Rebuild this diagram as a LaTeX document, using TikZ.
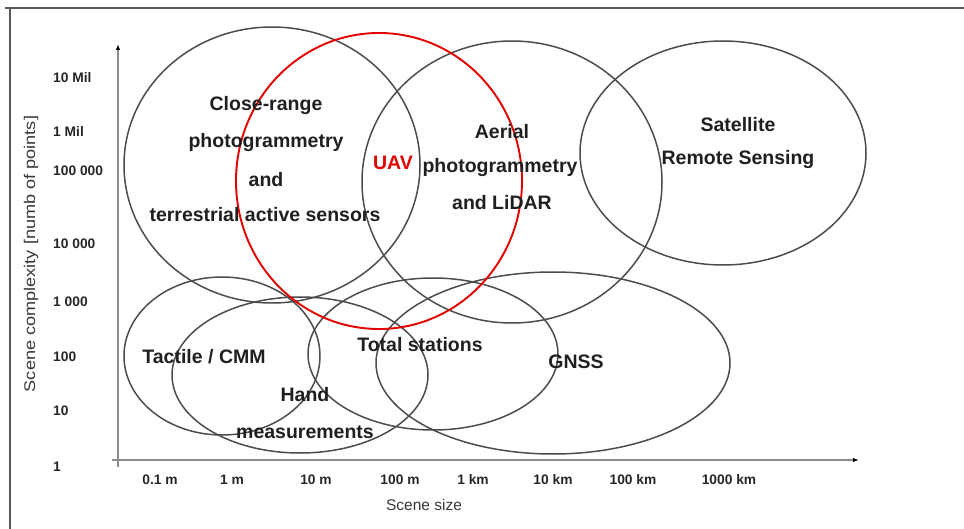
\documentclass[tikz,border=0pt]{standalone}
\usepackage{fontspec}
\setmainfont{Liberation Sans}
\usetikzlibrary{arrows.meta}
\begin{document}
\begin{tikzpicture}[x=1pt,y=-1pt,
  ell/.style={draw=black!70, line width=1.5pt},
  uavell/.style={draw=red!90!black, line width=1.9pt},
  lbl/.style={font=\fontsize{19.5}{22}\selectfont\bfseries, text=black!88, inner sep=0pt},
  uavlbl/.style={font=\fontsize{19.5}{22}\selectfont\bfseries, text=red!90!black, inner sep=0pt},
  ticklbl/.style={font=\fontsize{13.8}{15}\selectfont\bfseries, text=black!85, inner sep=0pt},
  axtitle/.style={font=\fontsize{15.5}{17}\selectfont, text=black!78, inner sep=0pt},
  axisline/.style={draw=black!45, line width=1.3pt, -{Latex[length=6pt,width=4.5pt,fill=black,color=black]}},
  frameline/.style={draw=black!65, line width=2pt}
]
\useasboundingbox (0,0) rectangle (964,529);
% frame
\draw[frameline] (5,8) -- (964,8);
\draw[frameline] (10,8) -- (10,529);
% axes
\coordinate (ybot) at (118,467);
\coordinate (ytop) at (118,44);
\coordinate (xstart) at (112,460);
\coordinate (xend) at (859,460);
\draw[axisline] (ybot) -- (ytop);
\draw[axisline] (xstart) -- (xend);
% ellipses
\draw[ell] (272,165) ellipse [x radius=148, y radius=138];
\draw[ell] (512,182) ellipse [x radius=150, y radius=141];
\draw[ell] (723,153) ellipse [x radius=143, y radius=112];
\draw[ell] (222,356) ellipse [x radius=98, y radius=79];
\draw[ell] (300,375) ellipse [x radius=128, y radius=78];
\draw[ell] (433,354) ellipse [x radius=125, y radius=76];
\draw[ell] (553,363) ellipse [x radius=177, y radius=91];
\draw[uavell] (379,181) ellipse [x radius=143, y radius=148];
% labels
\node[lbl] (cr1) at (266,106) {Close-range};
\node[lbl] (cr2) at (266,143) {photogrammetry};
\node[lbl] (cr3) at (266,180) {and};
\node[lbl] (cr4) at (265,215) {terrestrial active sensors};
\node[uavlbl] (uav) at (393,163) {UAV};
\node[lbl] (ae1) at (502,132) {Aerial};
\node[lbl] (ae2) at (500,168) {photogrammetry};
\node[lbl] (ae3) at (502,203) {and LiDAR};
\node[lbl] (sa1) at (738,125) {Satellite};
\node[lbl] (sa2) at (738,160) {Remote Sensing};
\node[lbl] (tac) at (204,357) {Tactile / CMM};
\node[lbl] (ha1) at (305,395) {Hand};
\node[lbl] (ha2) at (305,432) {measurements};
\node[lbl] (tot) at (420,345) {Total stations};
\node[lbl] (gnss) at (576,362) {GNSS};
% y ticks
\node[ticklbl, anchor=base west] (y7) at (53,83) {10 Mil};
\node[ticklbl, anchor=base west] (y6) at (53,137) {1 Mil};
\node[ticklbl, anchor=base west] (y5) at (53,176) {100 000};
\node[ticklbl, anchor=base west] (y4) at (53,249) {10 000};
\node[ticklbl, anchor=base west] (y3) at (53,307) {1 000};
\node[ticklbl, anchor=base west] (y2) at (53,361) {100};
\node[ticklbl, anchor=base west] (y1) at (53,415) {10};
\node[ticklbl, anchor=base west] (y0) at (53,471) {1};
% x ticks
\node[ticklbl, anchor=base] (x0) at (160,484) {0.1 m};
\node[ticklbl, anchor=base] (x1) at (232,484) {1 m};
\node[ticklbl, anchor=base] (x2) at (316,484) {10 m};
\node[ticklbl, anchor=base] (x3) at (400,484) {100 m};
\node[ticklbl, anchor=base] (x4) at (473,484) {1 km};
\node[ticklbl, anchor=base] (x5) at (553,484) {10 km};
\node[ticklbl, anchor=base] (x6) at (633,484) {100 km};
\node[ticklbl, anchor=base] (x7) at (729,484) {1000 km};
% axis titles
\node[axtitle] (xt) at (424,505) {Scene size};
\node[axtitle, rotate=90] (yt) at (31,254) {\scalebox{1.17}[1]{Scene complexity [numb of points]}};
\end{tikzpicture}
\end{document}
